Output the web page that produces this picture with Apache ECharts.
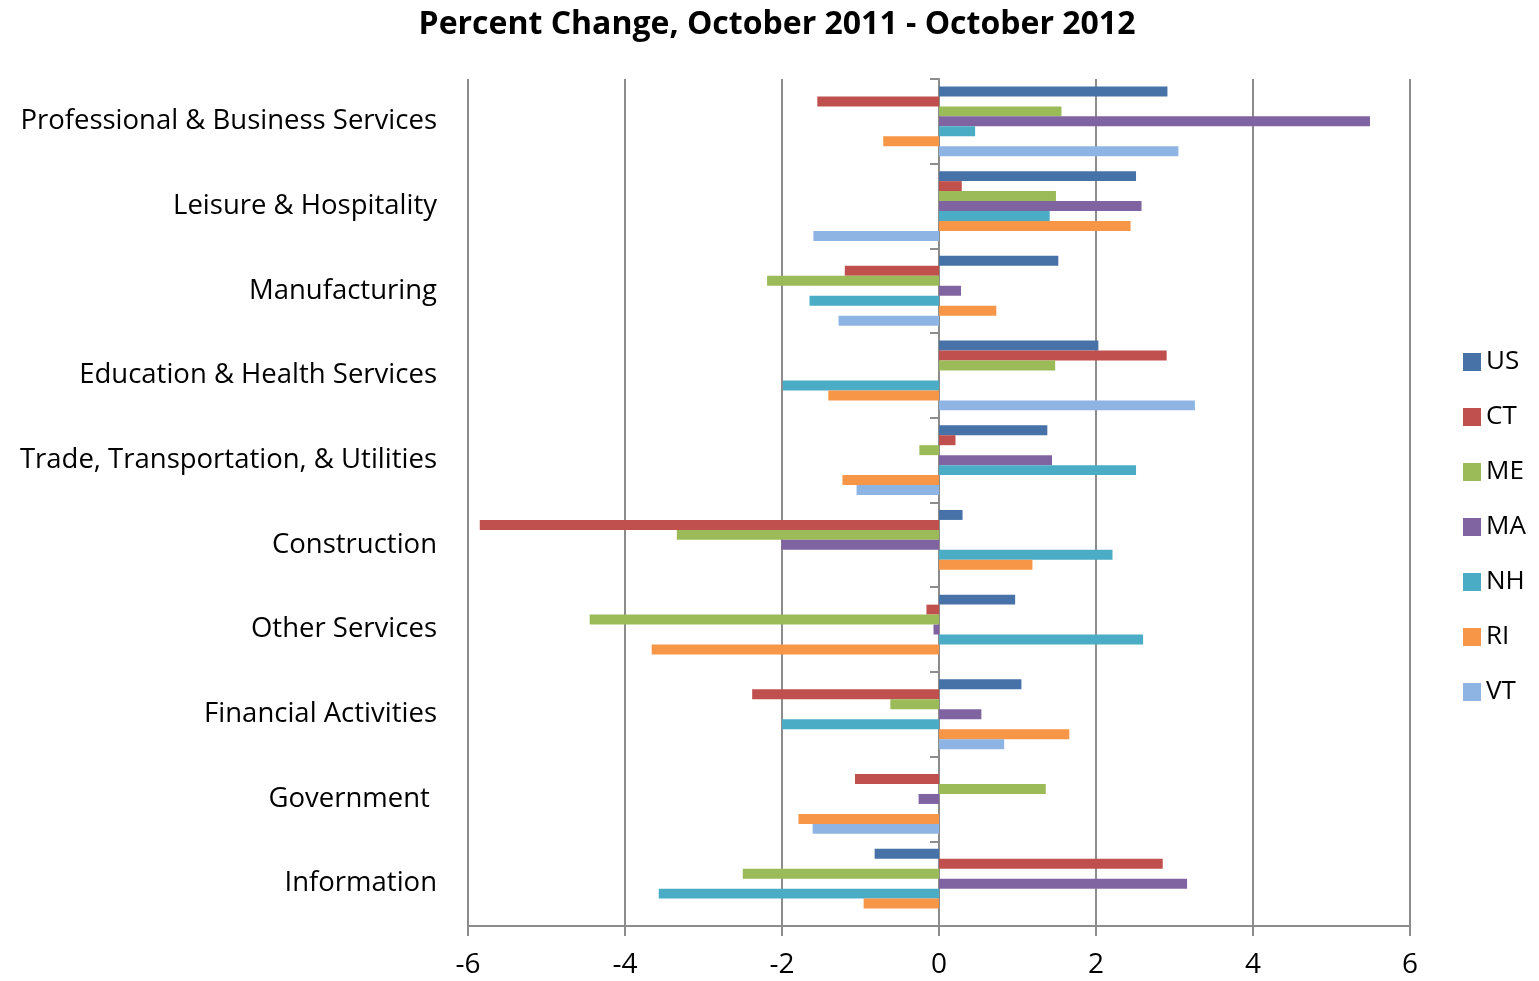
<!DOCTYPE html>
<html>
<head>
<meta charset="utf-8">
<script src="https://cdn.jsdelivr.net/npm/echarts@6/dist/echarts.min.js"></script>
<style>
  html, body { margin: 0; padding: 0; background: #fff; }
  #chart { width: 1539px; height: 981px; }
</style>
</head>
<body>
<div id="chart"></div>
<script>
// Industry sectors, listed top to bottom
const categories = [
  'Professional & Business Services',
  'Leisure & Hospitality',
  'Manufacturing',
  'Education & Health Services',
  'Trade, Transportation, & Utilities',
  'Construction',
  'Other Services',
  'Financial Activities',
  'Government ',
  'Information'
];

// Percent change in employment by area (null = not reported)
const US = [2.91, 2.51, 1.52, 2.03, 1.38, 0.30, 0.97, 1.05, null, -0.82];
const CT = [-1.55, 0.29, -1.20, 2.90, 0.21, -5.85, -0.16, -2.38, -1.07, 2.85];
const ME = [1.56, 1.49, -2.19, 1.48, -0.25, -3.34, -4.45, -0.62, 1.36, -2.50];
const MA = [5.49, 2.58, 0.28, null, 1.44, -2.01, -0.07, 0.54, -0.26, 3.16];
const NH = [0.46, 1.41, -1.65, -1.99, 2.51, 2.21, 2.60, -2.00, null, -3.57];
const RI = [-0.71, 2.44, 0.73, -1.41, -1.23, 1.19, -3.66, 1.66, -1.79, -0.96];
const VT = [3.05, -1.60, -1.28, 3.26, -1.05, null, null, 0.83, -1.61, null];

const seriesNames = ['US', 'CT', 'ME', 'MA', 'NH', 'RI', 'VT'];
const seriesValues = [US, CT, ME, MA, NH, RI, VT];
const colors = ['#4672A8', '#C0504D', '#9BBB59', '#8064A2', '#4BACC6', '#F79646', '#8EB4E3'];

const FONT = '"Open Sans"';
const GRID_GRAY = '#8c8c8c';

const chart = echarts.init(document.getElementById('chart'), null, { renderer: 'canvas' });

chart.setOption({
  animation: false,
  backgroundColor: '#ffffff',
  color: colors,
  title: {
    text: 'Percent Change, October 2011 - October 2012',
    left: 777,
    top: 9,
    padding: 0,
    textAlign: 'center',
    textStyle: { fontFamily: FONT, fontWeight: 'bold', fontSize: 32, color: '#000' }
  },
  legend: {
    orient: 'vertical',
    left: 1463,
    top: 347,
    itemWidth: 18,
    itemHeight: 18,
    itemGap: 25,
    icon: 'rect',
    padding: 0,
    data: seriesNames,
    textStyle: { fontFamily: FONT, fontSize: 26, color: '#000', lineHeight: 30 }
  },
  grid: { left: 468, right: 129, top: 79, bottom: 55, containLabel: false },
  xAxis: {
    type: 'value',
    min: -6,
    max: 6,
    interval: 2,
    axisLine: { show: true, onZero: false, lineStyle: { color: GRID_GRAY, width: 2 } },
    axisTick: { show: true, length: 10, lineStyle: { color: GRID_GRAY, width: 2 } },
    axisLabel: { fontFamily: FONT, fontSize: 28, color: '#000', margin: 25 },
    splitLine: { show: true, lineStyle: { color: GRID_GRAY, width: 2 } }
  },
  yAxis: [
    {
      type: 'category',
      data: categories,
      inverse: true,
      axisLine: { show: false, onZero: false },
      axisTick: { show: false },
      axisLabel: { fontFamily: FONT, fontSize: 27.5, color: '#000', margin: 31 },
      splitLine: { show: false }
    },
    {
      // axis line with boundary ticks drawn at zero
      type: 'category',
      data: categories,
      inverse: true,
      position: 'left',
      axisLine: { show: true, onZero: true, lineStyle: { color: GRID_GRAY, width: 2 } },
      axisTick: { show: true, length: 9, lineStyle: { color: GRID_GRAY, width: 2 } },
      axisLabel: { show: false },
      splitLine: { show: false }
    }
  ],
  series: seriesNames.map((name, i) => ({
    name: name,
    type: 'bar',
    yAxisIndex: 0,
    data: seriesValues[i],
    barGap: 0,
    barCategoryGap: '17.6%',
    itemStyle: { color: colors[i] }
  }))
});
</script>
</body>
</html>
